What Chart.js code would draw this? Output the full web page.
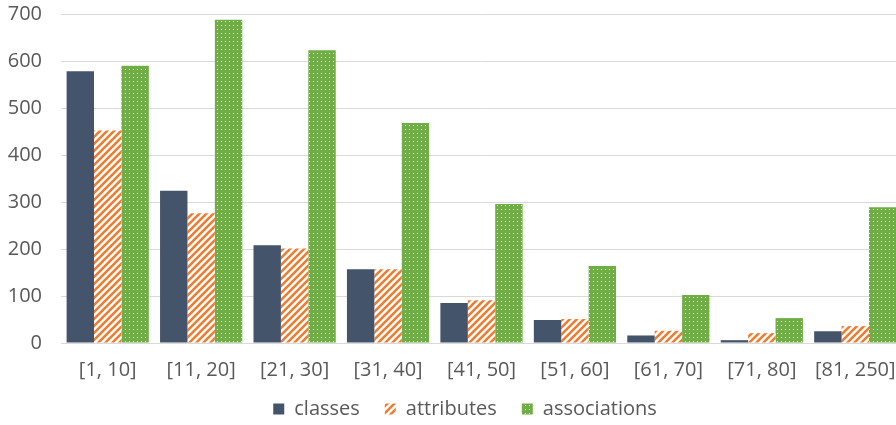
<!DOCTYPE html>
<html>
<head>
<meta charset="utf-8">
<script src="https://cdn.jsdelivr.net/npm/chart.js@4"></script>
<style>
  html, body { margin: 0; padding: 0; background: #fff; overflow: hidden; }
  #wrap { width: 930px; height: 425px; }
</style>
</head>
<body>
<div id="wrap"><canvas id="chart" width="930" height="425"></canvas></div>
<script>
// Word counts per range bucket
const categories = ['[1, 10]', '[11, 20]', '[21, 30]', '[31, 40]', '[41, 50]', '[51, 60]', '[61, 70]', '[71, 80]', '[81, 250]'];
const classes = [578, 324, 208, 157, 85, 49, 16, 6, 25];
const attributes = [452, 276, 201, 157, 91, 51, 26, 21, 36];
const associations = [590, 688, 623, 468, 296, 164, 102, 53, 289];
const yTicks = [0, 100, 200, 300, 400, 500, 600, 700];

// hatch "/" stripes, orange on white
function stripePattern(color) {
  const s = 7;
  const c = document.createElement('canvas');
  c.width = s; c.height = s;
  const g = c.getContext('2d');
  g.fillStyle = '#fff';
  g.fillRect(0, 0, s, s);
  g.strokeStyle = color;
  g.lineWidth = 2.6;
  g.beginPath();
  g.moveTo(-1, s + 1); g.lineTo(s + 1, -1);
  g.moveTo(-1, 1); g.lineTo(1, -1);
  g.moveTo(s - 1, s + 1); g.lineTo(s + 1, s - 1);
  g.stroke();
  return g.createPattern(c, 'repeat');
}

// small white dots on green
function dotPattern(color) {
  const s = 4;
  const c = document.createElement('canvas');
  c.width = s; c.height = s;
  const g = c.getContext('2d');
  g.fillStyle = color;
  g.fillRect(0, 0, s, s);
  g.fillStyle = 'rgba(255,255,255,0.85)';
  g.fillRect(1, 1, 1, 1);
  return g.createPattern(c, 'repeat');
}

// nudge the legend so it sits where the original one does
const legendShift = {
  id: 'legendShift',
  afterLayout(chart) {
    const lg = chart.legend;
    if (!lg) return;
    lg.left += 14; lg.right += 14;
    lg.top -= 9; lg.bottom -= 9;
  }
};

const fontFamily = "'Open Sans', sans-serif";
const textColor = '#595959';

new Chart(document.getElementById('chart').getContext('2d'), {
  type: 'bar',
  data: {
    labels: categories,
    datasets: [
      { label: 'classes', data: classes, backgroundColor: '#44546A' },
      { label: 'attributes', data: attributes, backgroundColor: stripePattern('#ED7D31') },
      { label: 'associations', data: associations, backgroundColor: dotPattern('#70AD47') }
    ]
  },
  plugins: [legendShift],
  options: {
    responsive: false,
    animation: false,
    categoryPercentage: 0.88,
    barPercentage: 1.0,
    layout: { padding: { left: 0, right: 28, top: 14, bottom: 0 } },
    plugins: {
      tooltip: { enabled: false },
      legend: {
        position: 'bottom',
        maxHeight: 42,
        labels: {
          color: textColor,
          font: { family: fontFamily, size: 20 },
          boxWidth: 11,
          boxHeight: 11,
          padding: 25
        }
      }
    },
    scales: {
      x: {
        grid: { display: false, drawTicks: false },
        border: { color: '#d9d9d9', width: 1 },
        afterFit: axis => { axis.height = 40; },
        ticks: { color: textColor, font: { family: fontFamily, size: 20 }, padding: 15, maxRotation: 0 }
      },
      y: {
        min: 0,
        max: 700,
        afterBuildTicks: axis => { axis.ticks = yTicks.map(v => ({ value: v })); },
        afterFit: axis => { axis.width = 61; axis.paddingTop = 0; axis.paddingBottom = 0; },
        grid: { color: '#d9d9d9', lineWidth: 1, drawTicks: false },
        border: { display: false },
        ticks: { color: textColor, font: { family: fontFamily, size: 20 }, padding: 19 }
      }
    }
  }
});
</script>
</body>
</html>
